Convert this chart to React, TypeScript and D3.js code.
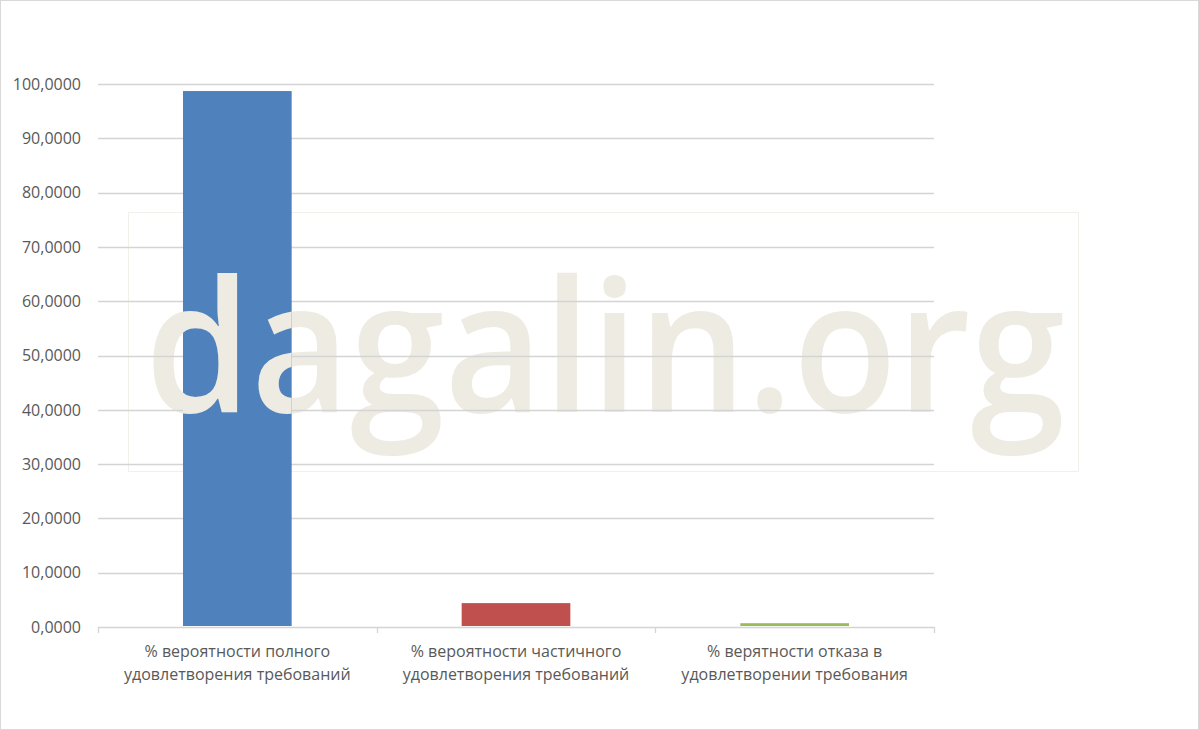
import React from "react";
import * as d3 from "d3";

const categories: string[][] = [
  ["% вероятности полного", "удовлетворения требований"],
  ["% вероятности частичного", "удовлетворения требований"],
  ["% верятности отказа в", "удовлетворении требования"],
];
const values: number[] = [98.7, 4.4, 0.7];
const colors: string[] = ["#4F81BD", "#C0504D", "#9BBB59"];
const yTicks: number[] = [0, 10, 20, 30, 40, 50, 60, 70, 80, 90, 100];

const W = 1199;
const H = 730;
const plot = { left: 98, right: 934, top: 84, bottom: 627 };
const FONT = "'Open Sans', 'DejaVu Sans', sans-serif";

export default function App() {
  const x = d3
    .scaleBand<number>()
    .domain(values.map((_, i) => i))
    .range([plot.left, plot.right])
    .padding(0);
  const y = d3.scaleLinear().domain([0, 100]).range([plot.bottom, plot.top]);
  const barW = x.bandwidth() * 0.39;
  const fmt = (v: number) => v.toFixed(4).replace(".", ",");
  const boundaries = [...values.map((_, i) => x(i) as number), plot.right];

  const bars = values.map((v, i) => ({
    x: (x(i) as number) + x.bandwidth() / 2 - barW / 2,
    y: y(v),
    w: barW,
    h: y(0) - y(v) - 1,
    c: colors[i],
  }));

  const watermark = (
    <text
      x={145}
      y={412}
      fontFamily={FONT}
      fontSize={184}
      fontWeight={600}
      fill="#EEEBE2"
      textLength={920}
      lengthAdjust="spacingAndGlyphs"
    >
      dagalin.org
    </text>
  );

  return (
    <svg
      width={W}
      height={H}
      style={{ position: "absolute", left: 0, top: 0, background: "#fff" }}
    >
      <defs>
        <clipPath id="barclip">
          {bars.map((b, i) => (
            <rect key={i} x={b.x} y={b.y} width={b.w} height={b.h} />
          ))}
        </clipPath>
      </defs>
      <rect x={0.5} y={0.5} width={W - 1} height={H - 1} fill="#fff" stroke="#D9D9D9" />
      {/* watermark box */}
      <rect x={128.5} y={212.5} width={950} height={259} fill="none" stroke="#F1F0EA" strokeWidth={1} />
      {watermark}
      {/* gridlines */}
      {yTicks.map((t) =>
        t === 0 ? null : (
          <line
            key={t}
            x1={plot.left}
            x2={plot.right}
            y1={Math.round(y(t)) + 0.5}
            y2={Math.round(y(t)) + 0.5}
            stroke="#D4D4D4"
            strokeWidth={1.3}
          />
        )
      )}
      {/* bars */}
      {bars.map((b, i) => (
        <rect key={i} x={b.x} y={b.y} width={b.w} height={b.h} fill={b.c} />
      ))}
      {/* watermark over bars */}
      <g clipPath="url(#barclip)">{watermark}</g>
      {/* axis */}
      <line
        x1={plot.left}
        x2={plot.right}
        y1={plot.bottom + 0.5}
        y2={plot.bottom + 0.5}
        stroke="#D4D4D4"
        strokeWidth={1.3}
      />
      {boundaries.map((bx, i) => (
        <line
          key={i}
          x1={Math.round(bx) + 0.5}
          x2={Math.round(bx) + 0.5}
          y1={plot.bottom}
          y2={plot.bottom + 6}
          stroke="#D4D4D4"
          strokeWidth={1.3}
        />
      ))}
      {/* y labels */}
      {yTicks.map((t) => (
        <text
          key={t}
          x={81}
          y={y(t)}
          dy="0.36em"
          textAnchor="end"
          fontFamily={FONT}
          fontSize={16}
          fill="#595959"
        >
          {fmt(t)}
        </text>
      ))}
      {/* x labels */}
      {categories.map((lines, i) => (
        <text
          key={i}
          x={(x(i) as number) + x.bandwidth() / 2}
          textAnchor="middle"
          fontFamily={FONT}
          fontSize={16}
          fill="#595959"
        >
          {lines.map((l, j) => (
            <tspan key={j} x={(x(i) as number) + x.bandwidth() / 2} y={657 + j * 23}>
              {l}
            </tspan>
          ))}
        </text>
      ))}
    </svg>
  );
}
